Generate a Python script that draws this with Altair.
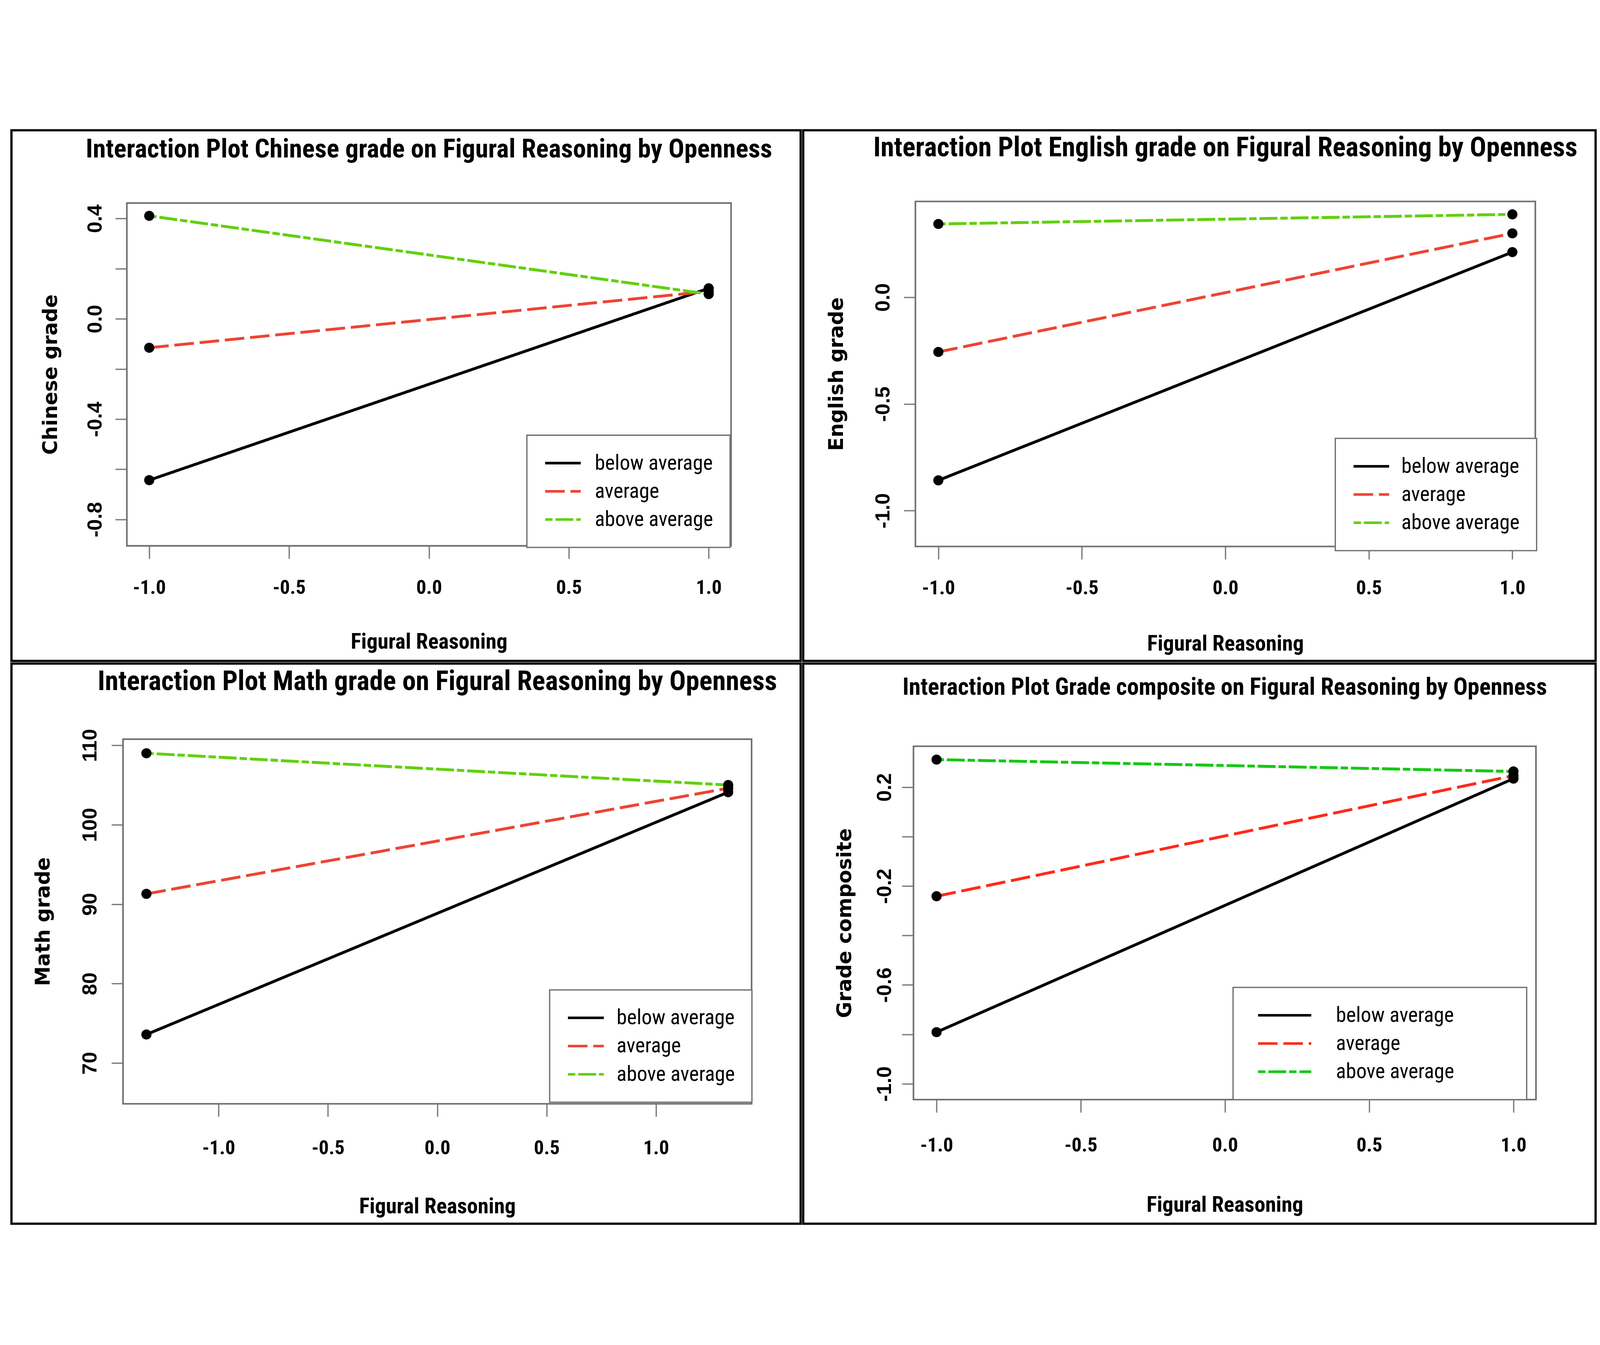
import altair as alt
import pandas as pd

groups = ["below average", "average", "above average"]

# Chinese grade
chinese_fr = [-1.0, 1.0]
chinese_low = [-0.643, -0.115, 0.411]
chinese_high = [0.122, 0.110, 0.099]

# English grade
english_fr = [-1.0, 1.0]
english_low = [-0.858, -0.256, 0.344]
english_high = [0.212, 0.300, 0.389]

# Math grade
math_fr = [-1.33, 1.33]
math_low = [73.6, 91.3, 109.0]
math_high = [104.1, 104.6, 105.0]

# Grade composite
comp_fr = [-1.0, 1.0]
comp_low = [-0.791, -0.241, 0.312]
comp_high = [0.235, 0.247, 0.264]

x_ticks = [-1.0, -0.5, 0.0, 0.5, 1.0]
chinese_yticks = [-0.8, -0.6, -0.4, -0.2, 0.0, 0.2, 0.4]
english_yticks = [-1.0, -0.5, 0.0]
math_yticks = [70, 80, 90, 100, 110]
comp_yticks = [-1.0, -0.8, -0.6, -0.4, -0.2, 0.0, 0.2]

chinese_xdom, chinese_ydom = [-1.08, 1.08], [-0.905, 0.462]
english_xdom, english_ydom = [-1.08, 1.08], [-1.168, 0.4495]
math_xdom, math_ydom = [-1.437, 1.437], [64.88, 110.77]
comp_xdom, comp_ydom = [-1.08, 1.078], [-1.064, 0.366]

colors_a = ["#000000", "#EE4433", "#62D00E"]
colors_b = ["#000000", "#FF2A1A", "#14C814"]
dashes = [[1, 0], [61, 18], [23, 9, 56, 9]]

NARROW = "'Roboto Condensed', 'Liberation Sans Narrow', 'DejaVu Sans Condensed', 'Liberation Sans', sans-serif"
WIDE = "'Liberation Sans', Arial, sans-serif"
YT = "'DejaVu Sans', Verdana, sans-serif"
BOX = "#707070"
TICK = "#7a7a7a"

XLAB_FS = 62
XTITLE_FS = 68
LEG_FS = 65

SIGNED1 = "(datum.value < 0 ? '-' : '') + format(abs(datum.value), '.1f')"

panels = [
    dict(title="Interaction Plot Chinese grade on Figural Reasoning by Openness",
         ylabel="Chinese grade", fr=chinese_fr, low=chinese_low, high=chinese_high,
         xdom=chinese_xdom, ydom=chinese_ydom, yticks=chinese_yticks,
         yexpr="abs(round(datum.value*10)) % 4 == 0 ? " + SIGNED1 + " : ''",
         colors=colors_a, cell=(2462, 1655), box=(360, 2245, 227, 1296),
         tfs=82, ty=60, xlab=130, xtitle=300, ylab=103, ytx=237,
         leg=(1608, 951), L=111, so=0, lo=40, spacer=0),
    dict(title="Interaction Plot English grade on Figural Reasoning by Openness",
         ylabel="English grade", fr=english_fr, low=english_low, high=english_high,
         xdom=english_xdom, ydom=english_ydom, yticks=english_yticks,
         yexpr=SIGNED1,
         colors=colors_a, cell=(2472, 1655), box=(350, 2284, 222, 1298),
         tfs=85, ty=55, xlab=130, xtitle=304, ylab=105, ytx=245,
         leg=(1660, 961), L=111, so=0, lo=34, spacer=0),
    dict(title="Interaction Plot Math grade on Figural Reasoning by Openness",
         ylabel="Math grade", fr=math_fr, low=math_low, high=math_high,
         xdom=math_xdom, ydom=math_ydom, yticks=math_yticks,
         yexpr="format(datum.value, '.0f')",
         colors=colors_a, cell=(2462, 1747), box=(348, 2309, 236, 1373),
         tfs=85, ty=57, xlab=138, xtitle=321, ylab=106, ytx=248,
         leg=(1679, 1018), L=112, so=0, lo=36, spacer=0),
    dict(title="Interaction Plot Grade composite on Figural Reasoning by Openness",
         ylabel="Grade composite", fr=comp_fr, low=comp_low, high=comp_high,
         xdom=comp_xdom, ydom=comp_ydom, yticks=comp_yticks,
         yexpr="(round(datum.value*10) + 2) % 4 == 0 ? " + SIGNED1 + " : ''",
         colors=colors_b, cell=(2472, 1747), box=(344, 2286, 258, 1360),
         tfs=74, ty=76, xlab=143, xtitle=329, ylab=94, ytx=214,
         leg=(1341, 1010), L=166, so=21, lo=73, spacer=12),
]


def make_panel(p):
    l, r, t, b = p["box"]
    W, H = p["cell"]
    rows = []
    for g, a, c in zip(groups, p["low"], p["high"]):
        rows.append({"grp": g, "fr": p["fr"][0], "val": a})
        rows.append({"grp": g, "fr": p["fr"][1], "val": c})
    df = pd.DataFrame(rows)
    box_df = pd.DataFrame({"x0": [p["xdom"][0]], "x1": [p["xdom"][1]],
                           "y0": [p["ydom"][0]], "y1": [p["ydom"][1]]})
    title_df = pd.DataFrame({"t": [p["title"]], "xc": [(p["xdom"][0] + p["xdom"][1]) / 2]})

    xs = alt.Scale(domain=p["xdom"], range=[l, r], nice=False, zero=False)
    ys = alt.Scale(domain=p["ydom"], range=[b, t], nice=False, zero=False)

    xaxis = alt.Axis(orient="bottom", offset=-(H - b), values=x_ticks, labelExpr=SIGNED1,
                     domain=False, grid=False, tickSize=40, tickColor=TICK, tickWidth=4,
                     labelFont=NARROW, labelFontSize=XLAB_FS, labelFontWeight="bold",
                     labelColor="black", labelBaseline="middle", labelPadding=p["xlab"] - 40,
                     labelFlush=False, labelOverlap=False,
                     title="Figural Reasoning", titleFont=NARROW, titleFontSize=XTITLE_FS,
                     titleFontWeight="bold", titleColor="black", titleBaseline="middle",
                     titleY=p["xtitle"])
    yaxis = alt.Axis(orient="left", offset=-l, values=p["yticks"], labelExpr=p["yexpr"],
                     domain=False, grid=False, tickSize=36, tickColor=TICK, tickWidth=4,
                     labelFont=WIDE, labelFontSize=64, labelFontWeight="bold",
                     labelColor="black", labelAngle=270, labelAlign="center",
                     labelBaseline="alphabetic", labelPadding=p["ylab"] - 23 - 36,
                     labelFlush=False, labelOverlap=False,
                     title=p["ylabel"], titleFont=YT, titleFontSize=62, titleFontWeight="bold",
                     titleColor="black", titleAngle=270, titleAlign="center",
                     titleBaseline="middle", titleX=-p["ytx"])

    leg_kw = dict(orient="none", legendX=p["leg"][0], legendY=p["leg"][1],
                  direction="vertical", symbolType="stroke", symbolSize=p["L"] * p["L"],
                  symbolStrokeWidth=8, symbolOffset=p["so"], labelOffset=p["lo"],
                  labelFont=NARROW, labelFontSize=LEG_FS, labelColor="black", labelLimit=3000,
                  padding=53, rowPadding=20, clipHeight=68,
                  strokeColor=BOX, fillColor="white")
    if p["spacer"]:
        # invisible spacer title widening the legend box to the plot edge
        leg_kw.update(title="0" * p["spacer"], titleOrient="right", titleFont=NARROW,
                      titleFontSize=41, titleOpacity=0, titlePadding=0)
    else:
        leg_kw.update(title=None)
    leg = alt.Legend(**leg_kw)

    frame = alt.Chart(box_df).mark_rect(fillOpacity=0, stroke=BOX, strokeWidth=5).encode(
        x=alt.X("x0:Q", scale=xs, axis=xaxis), x2="x1:Q",
        y=alt.Y("y0:Q", scale=ys, axis=yaxis), y2="y1:Q")

    lines = alt.Chart(df).mark_line(strokeWidth=9).encode(
        x=alt.X("fr:Q", scale=xs, axis=xaxis),
        y=alt.Y("val:Q", scale=ys, axis=yaxis),
        color=alt.Color("grp:N", scale=alt.Scale(domain=groups, range=p["colors"]), legend=leg),
        strokeDash=alt.StrokeDash("grp:N", scale=alt.Scale(domain=groups, range=dashes), legend=leg),
    )

    points = alt.Chart(df).mark_circle(size=1000, color="black", opacity=1).encode(
        x=alt.X("fr:Q", scale=xs, axis=xaxis),
        y=alt.Y("val:Q", scale=ys, axis=yaxis),
    )

    title = alt.Chart(title_df).mark_text(font=NARROW, fontSize=p["tfs"], fontWeight="bold",
                                          color="black", align="center", baseline="middle").encode(
        x=alt.X("xc:Q", scale=xs, axis=xaxis),
        y=alt.value(p["ty"]),
        text="t:N",
    )

    return alt.layer(frame, lines, points, title).properties(width=W, height=H)


charts = [make_panel(p) for p in panels]

chart = alt.concat(*charts, columns=2, spacing=0).resolve_scale(
    color="independent", strokeDash="independent", x="independent", y="independent"
).resolve_legend(color="independent", strokeDash="independent").properties(
    padding={"left": 22, "top": 17, "right": 0, "bottom": 0},
    background="white",
).configure_view(stroke="black", strokeWidth=7, fill="white").configure_legend(strokeWidth=4)

chart.save("out.html", embed_options={"renderer": "svg", "actions": False})
